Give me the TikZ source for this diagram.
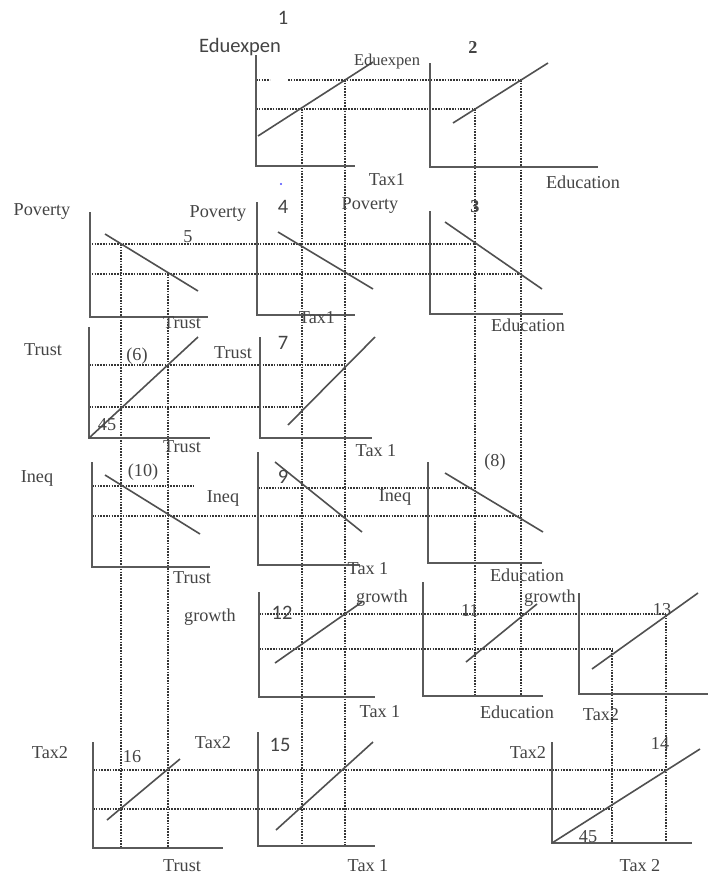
\documentclass[tikz,border=0pt]{standalone}
\usepackage{fontspec}
\setmainfont{Liberation Serif}
\newfontfamily\sanslab{Carlito}
\definecolor{axisgray}{HTML}{5A5A5A}
\definecolor{curvegray}{HTML}{505050}
\definecolor{dotgray}{HTML}{363636}
\definecolor{textgray}{HTML}{444444}
\begin{document}
\begin{tikzpicture}[x=1pt,y=-1pt,
  axisln/.style={draw=axisgray,line width=1.8pt,line join=miter},
  curveln/.style={draw=curvegray,line width=1.6pt},
  guide/.style={draw=dotgray,line width=1.8pt,dash pattern=on 1.5pt off 1.3pt},
  lab/.style={text=textgray,font=\fontsize{18.2}{21}\selectfont,inner sep=0pt},
  slab/.style={text=textgray,font=\sanslab\fontsize{20.5}{23}\selectfont,inner sep=0pt},
  blab/.style={text=textgray,font=\bfseries\fontsize{18.2}{21}\selectfont,inner sep=0pt}]
\useasboundingbox[fill=white] (0,0) rectangle (709,878);

% ---------- vertical guide lines ----------
\draw[guide] (302,109) -- (302,846);
\draw[guide] (345,80) -- (345,846);
\draw[guide] (475,109) -- (475,696);
\draw[guide] (521,80) -- (521,696);
\draw[guide] (121,244) -- (121,848);
\draw[guide] (168,274) -- (168,848);
\draw[guide] (612,650) -- (612,843);
\draw[guide] (666,615) -- (666,843);

% ---------- horizontal guide lines ----------
\draw[guide] (256,80) -- (270,80);
\draw[guide] (288,80) -- (521,80);
\draw[guide] (256,109) -- (475,109);
\draw[guide] (89,244) -- (475,244);
\draw[guide] (89,274) -- (521,274);
\draw[guide] (89,365) -- (345,365);
\draw[guide] (89,407) -- (302,407);
\draw[guide] (92,486) -- (193,486);
\draw[guide] (258,488) -- (475,488);
\draw[guide] (92,516) -- (521,516);
\draw[guide] (259,614) -- (666,614);
\draw[guide] (259,649) -- (612,649);
\draw[guide] (93,770) -- (666,770);
\draw[guide] (93,809) -- (612,809);

% ---------- axes ----------
\draw[axisln] (256,55) -- (256,166) -- (355,166);   % 1
\draw[axisln] (430,63) -- (430,167) -- (598,167);   % 2
\draw[axisln] (90,212) -- (90,317) -- (208,317);    % 5
\draw[axisln] (257,202) -- (257,315) -- (355,315);  % 4
\draw[axisln] (430,211) -- (430,314) -- (563,314);  % 3
\draw[axisln] (89,327) -- (89,438) -- (210,438);    % 6
\draw[axisln] (260,337) -- (260,438) -- (372,438);  % 7
\draw[axisln] (92,462) -- (92,567) -- (210,567);    % 10
\draw[axisln] (258,452) -- (258,565) -- (360,565);  % 9
\draw[axisln] (428,462) -- (428,563) -- (542,563);  % 8
\draw[axisln] (259,592) -- (259,697) -- (375,697);  % 12
\draw[axisln] (423,582) -- (423,696) -- (543,696);  % 11
\draw[axisln] (579,593) -- (579,694) -- (708,694);  % 13
\draw[axisln] (93,742) -- (93,848) -- (223,848);    % 16
\draw[axisln] (258,732) -- (258,846) -- (375,846);  % 15
\draw[axisln] (552,742) -- (552,843) -- (692,843);  % 14

% ---------- curves ----------
\draw[curveln] (258,136) -- (373,62);   % 1
\draw[curveln] (453,123) -- (548,63);   % 2
\draw[curveln] (105,234) -- (198,291);  % 5
\draw[curveln] (278,232) -- (373,289);  % 4
\draw[curveln] (445,222) -- (542,289);  % 3
\draw[curveln] (89,438) -- (198,337);   % 6
\draw[curveln] (288,425) -- (375,337);  % 7
\draw[curveln] (105,475) -- (200,534);  % 10
\draw[curveln] (275,462) -- (362,532);  % 9
\draw[curveln] (445,473) -- (543,532);  % 8
\draw[curveln] (275,663) -- (362,602);  % 12
\draw[curveln] (466,662) -- (537,604);  % 11
\draw[curveln] (592,669) -- (698,593);  % 13
\draw[curveln] (107,820) -- (180,759);  % 16
\draw[curveln] (276,830) -- (373,742);  % 15
\draw[curveln] (552,843) -- (700,749);  % 14

% ---------- labels ----------
\node[slab] (n1) at (283,18) {1};
\node[slab] (ee1) at (240,47) {Eduexpen};
\node[lab,font=\fontsize{16.5}{19}\selectfont] (ee2) at (387,62) {Eduexpen};
\node[blab] (n2) at (473,47) {2};
\node[lab] (tx1a) at (387,180) {Tax1};
\node[lab] (edA) at (583,182) {Education};
\fill[blue!70] (281,184) circle (1.1pt);

\node[lab] (pv1) at (42,212) {Poverty};
\node[lab] (pv2) at (218,214) {Poverty};
\node[slab] (n4) at (283,207) {4};
\node[lab] (pv3) at (370,206) {Poverty};
\node[blab] (n3) at (475,207) {3};
\node[lab] (n5) at (188,237) {5};
\node[lab] (tx1b) at (317,318) {Tax1};
\node[lab] (trA) at (182,323) {Trust};
\node[lab] (edB) at (528,325) {Education};

\node[lab] (tr1) at (43,350) {Trust};
\node[lab] (n6) at (137,356) {(6)};
\node[lab] (tr2) at (233,353) {Trust};
\node[slab] (n7) at (283,343) {7};
\node[lab] (f1) at (107,425) {45};
\node[lab] (trB) at (182,447) {Trust};
\node[lab] (tx1c) at (376,451) {Tax 1};

\node[lab] (iq1) at (37,478) {Ineq};
\node[lab] (n10) at (143,472) {(10)};
\node[lab] (iq2) at (223,498) {Ineq};
\node[slab] (n9) at (283,477) {9};
\node[lab] (iq3) at (395,497) {Ineq};
\node[lab] (n8) at (495,462) {(8)};
\node[lab] (trC) at (192,578) {Trust};
\node[lab] (tx1d) at (368,569) {Tax 1};
\node[lab] (edC) at (527,575) {Education};

\node[slab] (n12) at (282,613) {12};
\node[lab] (gr1) at (210,617) {growth};
\node[lab] (gr2) at (382,598) {growth};
\node[lab] (n11) at (470,610) {11};
\node[lab] (gr3) at (550,598) {growth};
\node[lab] (n13) at (662,610) {13};
\node[lab] (tx1e) at (380,712) {Tax 1};
\node[lab] (edD) at (517,712) {Education};
\node[lab] (tx2a) at (601,715) {Tax2};

\node[lab] (t2l) at (50,753) {Tax2};
\node[lab] (n16) at (132,757) {16};
\node[lab] (t2m) at (213,743) {Tax2};
\node[slab] (n15) at (280,745) {15};
\node[lab] (t2r) at (528,753) {Tax2};
\node[lab] (n14) at (660,743) {14};
\node[lab] (f2) at (588,837) {45};
\node[lab] (trD) at (182,866) {Trust};
\node[lab] (tx1f) at (368,866) {Tax 1};
\node[lab] (tx2b) at (640,866) {Tax 2};
\end{tikzpicture}
\end{document}
